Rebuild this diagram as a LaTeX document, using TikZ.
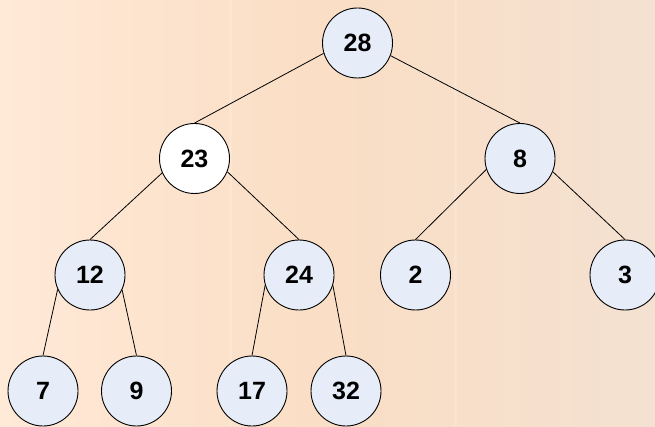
\documentclass[tikz,border=0pt]{standalone}
\usepackage{fontspec}
\setmainfont{Liberation Sans}
\begin{document}
\begin{tikzpicture}[x=1pt,y=1pt,
  tnode/.style={circle,draw=black,line width=0.9pt,fill=nodefill,minimum size=70pt,inner sep=0pt,font=\fontsize{25}{28}\selectfont\bfseries},
  wnode/.style={tnode,fill=white},
  edge/.style={draw=black,line width=0.8pt}]
\definecolor{nodefill}{HTML}{E7EDF8}
\definecolor{bgA}{HTML}{FFE9D7}
\definecolor{bgM}{HTML}{FADEC5}
\definecolor{bgB}{HTML}{F4E1D1}
\useasboundingbox (0,0) rectangle (655,426);
\shade[left color=bgA,right color=bgB,middle color=bgM] (0,0) rectangle (655,426);
\fill[white,opacity=0.18] (229,0) rectangle (232,426);
\fill[white,opacity=0.18] (454,0) rectangle (457,426);
% nodes (y = 426 - pixel y)
\node[tnode] (n28) at (357.5,383) {28};
\node[wnode] (n23) at (194.5,267.5) {23};
\node[tnode] (n8)  at (520,267.5) {8};
\node[tnode] (n12) at (90,151) {12};
\node[tnode] (n24) at (299,151) {24};
\node[tnode] (n2)  at (415.5,151) {2};
\node[tnode] (n3)  at (625,151) {3};
\node[tnode] (n7)  at (43,35) {7};
\node[tnode] (n9)  at (136.5,35) {9};
\node[tnode] (n17) at (252,35) {17};
\node[tnode] (n32) at (346,35) {32};
% edges
\draw[edge] (n28.197) -- (n23.north);
\draw[edge] (n28.339) -- (n8.north);
\draw[edge] (n23.204) -- (n12.north);
\draw[edge] (n23.338) -- (n24.north);
\draw[edge] (n8.198) -- (n2.north);
\draw[edge] (n8.338) -- (n3.north);
\draw[edge] (n12.204) -- (n7.north);
\draw[edge] (n12.335) -- (n9.north);
\draw[edge] (n24.197) -- (n17.north);
\draw[edge] (n24.343) -- (n32.north);
\end{tikzpicture}
\end{document}
